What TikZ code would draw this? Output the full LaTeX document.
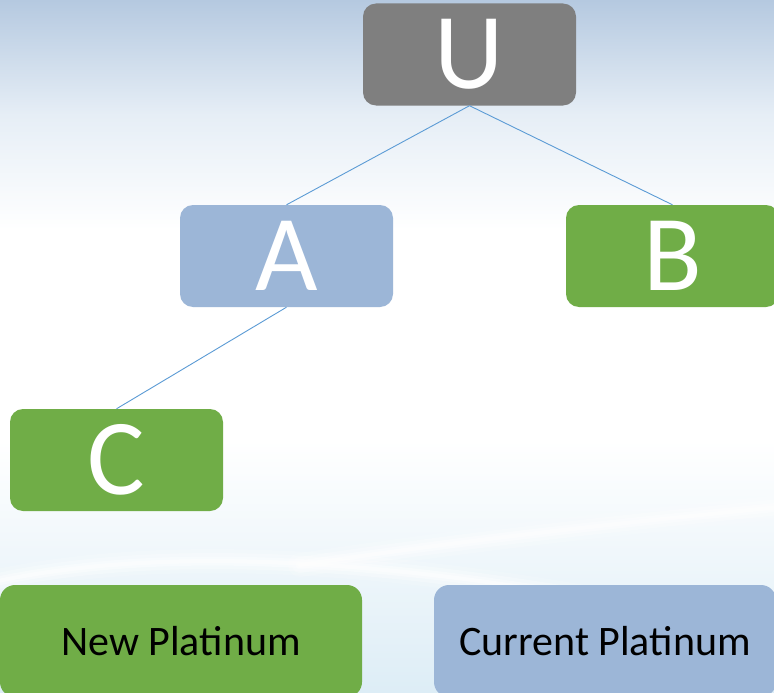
\documentclass[tikz,border=0pt]{standalone}
\usepackage{fontspec}
\setmainfont{Carlito}
\definecolor{ugray}{HTML}{7F7F7F}
\definecolor{ablue}{HTML}{9CB6D7}
\definecolor{bgreen}{HTML}{70AD47}
\definecolor{edgeblue}{HTML}{5B9BD5}
\definecolor{skytop}{HTML}{B5C9E0}
\definecolor{skymid}{HTML}{E6EEF6}
\definecolor{skybot}{HTML}{DDEDF6}
\begin{document}
\begin{tikzpicture}[x=1pt,y=-1pt,
  letterbox/.style={rounded corners=13pt, minimum width=213pt, minimum height=102pt,
    inner sep=0pt, text=white, font=\fontsize{108}{108}\selectfont},
  legendbox/.style={rounded corners=15pt, inner sep=0pt, text=black,
    font=\fontsize{42}{46}\selectfont},
  link/.style={draw=edgeblue, line width=0.9pt},
  swoosh/.style={white, line cap=round}]
\useasboundingbox (0,0) rectangle (774,693);
\clip (0,0) rectangle (774,693);
% background
\fill[white] (0,0) rectangle (774,693);
\shade[top color=skytop, bottom color=white, middle color=skymid] (0,0) rectangle (774,230);
\shade[top color=white, bottom color=skybot] (0,440) rectangle (774,693);
\foreach \w/\o in {24/0.15,16/0.25,9/0.35,4/0.45}{
  \draw[swoosh, line width=\w pt, opacity=\o]
    (-20,585) .. controls (150,545) and (400,550) .. (800,640);
  \draw[swoosh, line width=\w pt, opacity=\o]
    (300,565) .. controls (500,535) and (650,520) .. (800,505);
}
% nodes
\node[letterbox, fill=ugray] (U) at (469.5,54.5) {\raisebox{-2pt}{U}};
\node[letterbox, fill=ablue] (A) at (286.5,256) {\raisebox{-2pt}{A}};
\node[letterbox, fill=bgreen] (B) at (672.5,256) {\raisebox{-2pt}{B}};
\node[letterbox, fill=bgreen] (C) at (116.5,460) {\raisebox{-2pt}{C}};
\node[legendbox, fill=bgreen, minimum width=362pt, minimum height=112pt] (NP) at (181,641) {New Platinum};
\node[legendbox, fill=ablue, minimum width=342pt, minimum height=112pt] (CP) at (605,641) {Current Platinum};
% links
\draw[link] (U.south) -- (A.north);
\draw[link] (U.south) -- (B.north);
\draw[link] (A.south) -- (C.north);
\end{tikzpicture}
\end{document}
